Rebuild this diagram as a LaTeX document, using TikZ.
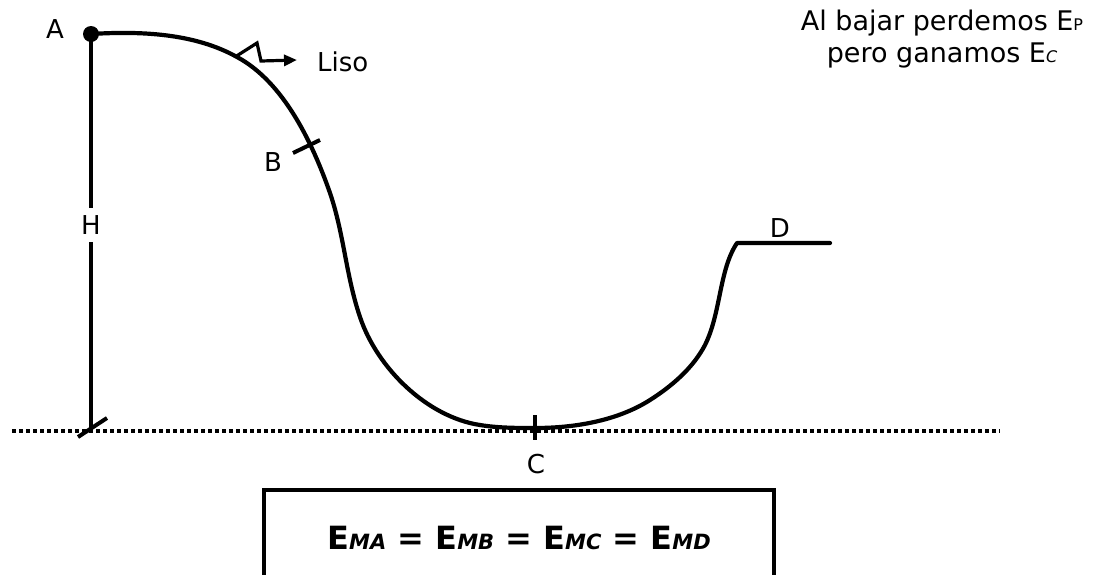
\documentclass[tikz,border=0pt]{standalone}
\usepackage{fontspec}
\setmainfont{DejaVu Sans}
\usetikzlibrary{arrows.meta, positioning}

\begin{document}
\begin{tikzpicture}[x=1pt, y=-1pt,
    track/.style={line width=4.2pt, line cap=round, line join=round},
    tick/.style={line width=4pt},
    label/.style={font=\fontsize{26}{30}\selectfont, inner sep=1pt},
    ground/.style={line width=3.2pt, dash pattern=on 4pt off 3pt}]
\useasboundingbox (0,0) rectangle (1095,574);

% Points on the track
\coordinate (A) at (91,34);
\coordinate (foot) at (91,431);
\coordinate (Dstart) at (737,243);
\coordinate (Dend) at (830,243);

% Reference level
\draw[ground] (12,431) -- (1000,431);

% Height H
\draw[tick] (A) -- (foot);
\node[label, fill=white, inner ysep=8pt] (H) at (91,225) {H};
\draw[tick] (78,437) -- (107,418);

% Track
\draw[track] (A) .. controls (140,31) and (194,33) .. (237,57)
    .. controls (278,79) and (308,130) .. (330,193)
    .. controls (344,234) and (346,276) .. (360,317)
    .. controls (377,368) and (427,417) .. (480,425)
    .. controls (498,428) and (517,428) .. (535,428)
    .. controls (574,428) and (617,421) .. (650,400)
    .. controls (672,386) and (693,368) .. (705,345)
    .. controls (721,313) and (719,270) .. (Dstart)
    -- (Dend);
\fill (A) circle (8);

% Ticks at B and C
\draw[tick] (293,153) -- (320,140);
\draw[tick] (535,415) -- (535,440);

% Smooth surface
\draw[line width=3.2pt, line join=miter, -{Triangle[length=13pt, width=11pt]}]
    (235,57) -- (257,43) -- (261,61) -- (297,60);
\node[label, anchor=west] (liso) at (316,62) {Liso};

% Labels
\node[label] (lA) at (55,29) {A};
\node[label] (lB) at (273,162) {B};
\node[label] (lC) at (536,464) {C};
\node[label] (lD) at (780,228) {D};

% Note
\node[font=\fontsize{27}{31}\selectfont, align=center] (note) at (942,39)
    {Al bajar perdemos E{\fontsize{16}{16}\selectfont P}\\[1pt]
     pero ganamos E{\fontsize{16}{16}\selectfont\itshape C}};

% Energy box
\draw[line width=4pt] (264,580) -- (264,490) -- (774,490) -- (774,580);
\newcommand{\emsub}[1]{{\fontsize{21}{21}\selectfont\itshape #1}}
\node[font=\fontsize{32}{36}\selectfont\bfseries] (energy) at (519,538)
    {E\emsub{MA} = E\emsub{MB} = E\emsub{MC} = E\emsub{MD}};
\end{tikzpicture}
\end{document}
